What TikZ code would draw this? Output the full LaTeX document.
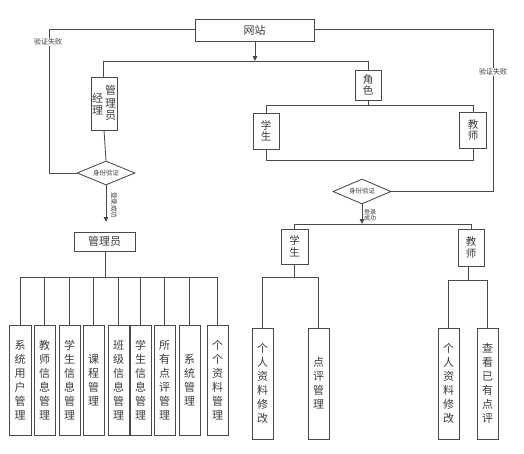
\documentclass[tikz,border=0pt]{standalone}
\usepackage{fontspec}
\newfontfamily\cjk{Noto Sans CJK SC}
\usetikzlibrary{arrows.meta,shapes.geometric}
\definecolor{lc}{HTML}{4A4A4A}
\definecolor{tc}{HTML}{3A3A3A}
\begin{document}
\begin{tikzpicture}[x=1pt,y=-1pt,
  box/.style={draw=lc,line width=0.85pt,inner sep=0pt,text=tc,align=center,
    font=\cjk\fontsize{11}{14}\selectfont},
  sbox/.style={box,font=\cjk\fontsize{10.5}{11.5}\selectfont},
  dia/.style={diamond,draw=lc,line width=0.85pt,inner sep=0pt,aspect=2.4,text=tc,
    font=\cjk\fontsize{6.5}{7}\selectfont},
  conn/.style={draw=lc,line width=0.85pt},
  arr/.style={conn,-{Triangle[width=4.5pt,length=5pt]}},
  lbl/.style={text=tc,inner sep=0.5pt,font=\cjk\fontsize{7}{8}\selectfont},
  wlbl/.style={lbl,fill=white}]
\useasboundingbox (0,0) rectangle (524,453);
% top
\node[box,minimum width=119pt,minimum height=22pt] (wz) at (254.5,30) {网站};
\coordinate (b1) at (255,61);
\coordinate (bl) at (103,61);
\coordinate (br) at (368,61);
\draw[arr] (wz.south -| b1) -- (b1);
\draw[conn] (bl) -- (br);
% manager box
\node[box,minimum width=26pt,minimum height=53pt] (jl) at (104,103.5) {};
\node[lbl,font=\cjk\fontsize{11}{12.5}\selectfont,align=center] (jlt1) at (110.5,103) {管\\理\\员};
\node[lbl,font=\cjk\fontsize{11}{12}\selectfont,align=center] (jlt2) at (97.5,104) {经\\理};
\draw[conn] (bl) -- (jl.north -| bl);
\node[dia,minimum width=58pt,minimum height=24pt] (d1) at (106,173) {身份验证};
\draw[conn] (jl.south) -- (d1.north);
\coordinate (fl) at (49,29);
\draw[conn] (wz.west |- fl) -- (fl) -- (fl |- d1) -- (d1.west);
\node[wlbl] (f1) at (48,42) {验证失败};
\coordinate (a1) at (106,222);
\draw[arr] (d1.south) -- (a1);
\node[lbl,rotate=-90,font=\cjk\fontsize{6.5}{7}\selectfont] (s1) at (114,205) {登录成功};
% admin
\node[box,minimum width=61pt,minimum height=19pt] (adm) at (104.5,241.5) {管理员};
\coordinate (bus2) at (105,277);
\draw[conn] (adm.south -| bus2) -- (bus2);
\draw[conn] (20,277) coordinate (b2l) -- (218,277) coordinate (b2r);
\foreach \n/\x/\w/\t in {m1/20/22/{系\\统\\用\\户\\管\\理},m2/44.5/21/{教\\师\\信\\息\\管\\理},
  m3/69.5/21/{学\\生\\信\\息\\管\\理},m4/93.5/21/{课\\程\\管\\理},
  m5/118.5/21/{班\\级\\信\\息\\管\\理},m6/140.5/21/{学\\生\\信\\息\\管\\理},
  m7/164.5/21/{所\\有\\点\\评\\管\\理},m8/189.5/21/{系\\统\\管\\理},
  m9/217.5/21/{个\\个\\资\\料\\管\\理}}{
  \node[box,minimum width=\w pt,minimum height=110pt] (\n) at (\x,380) {\t};
  \draw[conn] (\n.north) -- (\n.north |- b2l);
}
% roles
\node[sbox,minimum width=26pt,minimum height=30pt] (js) at (368,85) {角\\色};
\draw[conn] (br) -- (js.north);
\coordinate (b3) at (368,105);
\draw[conn] (js.south) -- (b3);
\node[sbox,minimum width=26pt,minimum height=36pt] (xs1) at (266,131) {学\\生};
\node[sbox,minimum width=27pt,minimum height=36pt] (js1) at (473,130) {教\\师};
\draw[conn] (xs1.north) -- (xs1.north |- b3) -- (js1.north |- b3) -- (js1.north);
\coordinate (b4) at (266,160);
\draw[conn] (xs1.south) -- (b4) -- (js1.south |- b4) -- (js1.south);
% right verification
\node[dia,minimum width=58pt,minimum height=25pt] (d2) at (362,191.5) {身份验证};
\coordinate (fr) at (493,29);
\draw[conn] (wz.east |- fr) -- (fr) -- (fr |- d2) -- (d2.east);
\node[wlbl] (f2) at (493,72) {验证失败};
\coordinate (b5) at (362,224);
\draw[arr] (d2.south) -- (b5);
\node[lbl,align=left,font=\cjk\fontsize{6}{6.5}\selectfont] (s2) at (370,215) {登录\\成功};
% student / teacher
\node[sbox,minimum width=27pt,minimum height=35pt] (xs2) at (294.5,246.5) {学\\生};
\node[sbox,minimum width=26pt,minimum height=37pt] (js2) at (471,247.5) {教\\师};
\draw[conn] (xs2.north) -- (xs2.north |- b5) -- (js2.north |- b5) -- (js2.north);
\node[box,minimum width=21pt,minimum height=111pt] (g1) at (262.5,383.5) {个\\人\\资\\料\\修\\改};
\node[box,minimum width=21pt,minimum height=111pt] (g2) at (318.5,383.5) {点\\评\\管\\理};
\node[box,minimum width=21pt,minimum height=111pt] (g3) at (448.5,383.5) {个\\人\\资\\料\\修\\改};
\node[box,minimum width=21pt,minimum height=111pt] (g4) at (487.5,383.5) {查\\看\\已\\有\\点\\评};
\coordinate (b6) at (294.5,277);
\draw[conn] (xs2.south) -- (b6);
\draw[conn] (g1.north) -- (g1.north |- b6) -- (g2.north |- b6) -- (g2.north);
\coordinate (b7) at (468,280);
\draw[conn] (js2.south -| b7) -- (b7);
\draw[conn] (g3.north) -- (g3.north |- b7) -- (g4.north |- b7) -- (g4.north);
\end{tikzpicture}
\end{document}
